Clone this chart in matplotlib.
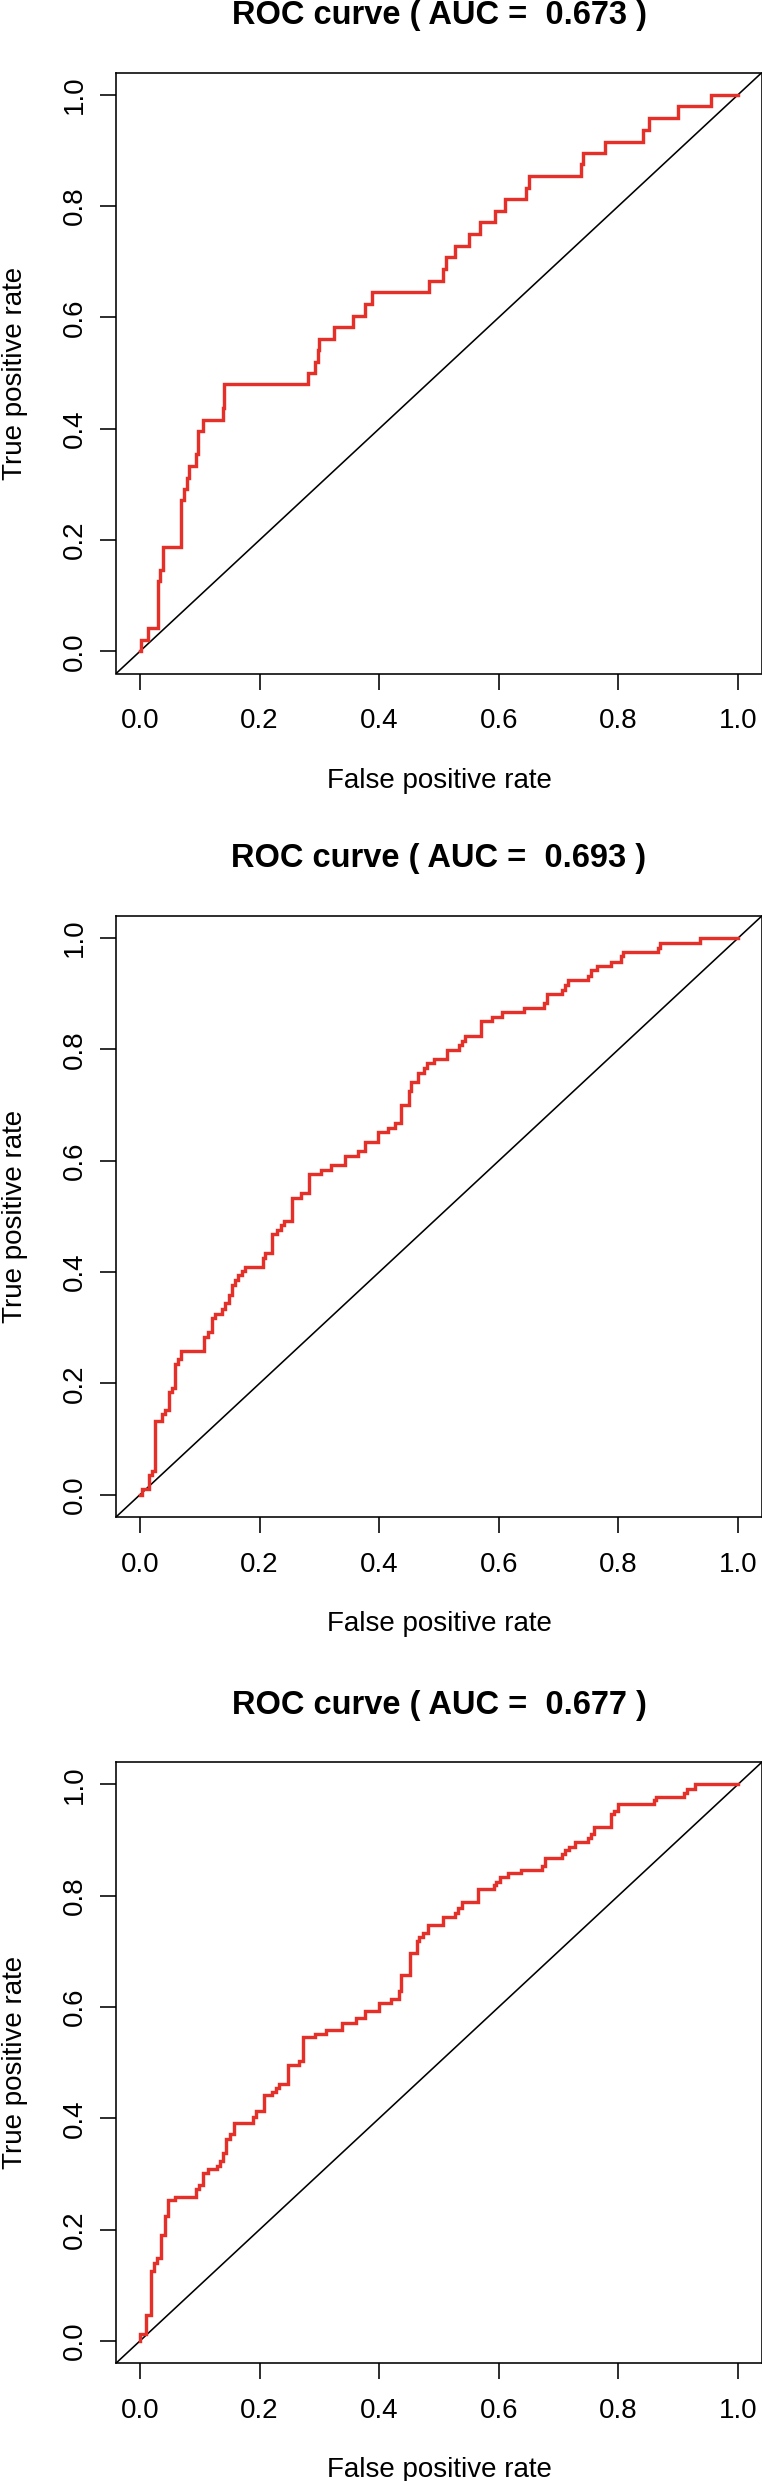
import numpy as np
import matplotlib
matplotlib.use("Agg")
import matplotlib.pyplot as plt
from matplotlib.transforms import blended_transform_factory, ScaledTranslation

plt.rcParams['font.family'] = ['Liberation Sans', 'DejaVu Sans']

# ---------------- data ----------------
titles = ["ROC curve ( AUC =  0.673 )",
          "ROC curve ( AUC =  0.693 )",
          "ROC curve ( AUC =  0.677 )"]
x_label = "False positive rate"
y_label = "True positive rate"
tick_values = [0.0, 0.2, 0.4, 0.6, 0.8, 1.0]
tick_labels = ["0.0", "0.2", "0.4", "0.6", "0.8", "1.0"]

# staircase: FPR where the curve rises, TPR level reached after the rise
fpr_1 = [0.002, 0.013, 0.030, 0.034, 0.038, 0.069, 0.073, 0.078, 0.082, 0.093,
         0.097, 0.106, 0.138, 0.141, 0.281, 0.293, 0.297, 0.299, 0.324, 0.357,
         0.376, 0.388, 0.484, 0.507, 0.511, 0.527, 0.550, 0.568, 0.593, 0.610,
         0.646, 0.650, 0.737, 0.741, 0.777, 0.841, 0.852, 0.900, 0.955]
tpr_1 = [0.021, 0.041, 0.126, 0.146, 0.188, 0.271, 0.292, 0.312, 0.333, 0.355,
         0.395, 0.416, 0.438, 0.480, 0.500, 0.520, 0.541, 0.561, 0.582, 0.603,
         0.624, 0.645, 0.666, 0.687, 0.708, 0.729, 0.750, 0.771, 0.792, 0.813,
         0.833, 0.854, 0.875, 0.895, 0.916, 0.937, 0.958, 0.979, 1.000]

fpr_2 = [0.004, 0.015, 0.020, 0.025, 0.037, 0.042, 0.048, 0.053, 0.059, 0.064,
         0.069, 0.107, 0.113, 0.121, 0.126, 0.137, 0.142, 0.148, 0.154, 0.159,
         0.164, 0.170, 0.175, 0.205, 0.209, 0.221, 0.229, 0.236, 0.241, 0.254,
         0.270, 0.283, 0.302, 0.319, 0.343, 0.365, 0.376, 0.398, 0.415, 0.426,
         0.437, 0.449, 0.454, 0.465, 0.475, 0.480, 0.492, 0.514, 0.533, 0.538,
         0.543, 0.571, 0.589, 0.605, 0.642, 0.676, 0.681, 0.705, 0.711, 0.715,
         0.750, 0.754, 0.764, 0.787, 0.804, 0.808, 0.866, 0.870, 0.937]
tpr_2 = [0.010, 0.035, 0.042, 0.133, 0.145, 0.152, 0.185, 0.192, 0.234, 0.243,
         0.259, 0.283, 0.292, 0.318, 0.325, 0.333, 0.344, 0.359, 0.377, 0.385,
         0.394, 0.402, 0.409, 0.425, 0.434, 0.468, 0.476, 0.485, 0.492, 0.533,
         0.542, 0.576, 0.584, 0.592, 0.609, 0.617, 0.634, 0.651, 0.658, 0.667,
         0.701, 0.725, 0.741, 0.758, 0.766, 0.775, 0.783, 0.799, 0.808, 0.815,
         0.825, 0.851, 0.859, 0.867, 0.875, 0.884, 0.899, 0.907, 0.916, 0.925,
         0.932, 0.942, 0.950, 0.958, 0.968, 0.975, 0.983, 0.991, 1.000]

fpr_3 = [0.000, 0.010, 0.018, 0.024, 0.029, 0.035, 0.041, 0.047, 0.059, 0.093,
         0.098, 0.106, 0.114, 0.128, 0.133, 0.138, 0.144, 0.150, 0.157, 0.189,
         0.194, 0.208, 0.221, 0.227, 0.233, 0.247, 0.266, 0.272, 0.293, 0.311,
         0.337, 0.362, 0.376, 0.399, 0.420, 0.433, 0.437, 0.451, 0.463, 0.467,
         0.474, 0.481, 0.507, 0.526, 0.532, 0.538, 0.565, 0.592, 0.596, 0.602,
         0.615, 0.637, 0.672, 0.677, 0.705, 0.711, 0.717, 0.728, 0.749, 0.754,
         0.760, 0.788, 0.793, 0.800, 0.859, 0.863, 0.909, 0.915, 0.928]
tpr_3 = [0.013, 0.047, 0.125, 0.140, 0.149, 0.190, 0.225, 0.253, 0.259, 0.272,
         0.280, 0.301, 0.308, 0.315, 0.323, 0.337, 0.363, 0.372, 0.392, 0.403,
         0.413, 0.441, 0.448, 0.455, 0.462, 0.496, 0.503, 0.546, 0.552, 0.559,
         0.572, 0.580, 0.593, 0.607, 0.615, 0.629, 0.657, 0.697, 0.719, 0.725,
         0.732, 0.748, 0.762, 0.769, 0.777, 0.789, 0.812, 0.819, 0.825, 0.833,
         0.840, 0.846, 0.854, 0.867, 0.875, 0.882, 0.888, 0.897, 0.903, 0.911,
         0.924, 0.946, 0.952, 0.965, 0.971, 0.978, 0.985, 0.992, 1.000]

curves = [(fpr_1, tpr_1), (fpr_2, tpr_2), (fpr_3, tpr_3)]

# ---------------- layout ----------------
W, H = 762, 2481
DPI = 100
PT = 72.0 / DPI          # points per pixel
fig = plt.figure(figsize=(W / DPI, H / DPI), dpi=DPI)
fig.patch.set_facecolor("white")

ax_left_px = 116.1
ax_w_px = 645.8
ax_h_px = 601.0
ax_tops_px = [72.5, 915.9, 1762.1]

red = "#E5302A"
fs_axis = 20.0
fs_title = 23.5

for (fpr, tpr), title, top in zip(curves, titles, ax_tops_px):
    ax = fig.add_axes([ax_left_px / W, 1 - (top + ax_h_px) / H,
                       ax_w_px / W, ax_h_px / H])
    ax.set_xlim(-0.04, 1.04)
    ax.set_ylim(-0.04, 1.04)

    xs = np.r_[0.0, np.asarray(fpr), 1.0]
    ys = np.r_[0.0, np.asarray(tpr), tpr[-1]]
    ax.step(xs, ys, where="post", color=red, lw=3.4 * PT,
            solid_joinstyle="miter", zorder=3)
    ax.plot([-0.04, 1.04], [-0.04, 1.04], color="black", lw=1.6 * PT, zorder=2)

    for s in ax.spines.values():
        s.set_linewidth(1.6 * PT)
        s.set_color("black")

    ax.set_xticks(tick_values)
    ax.set_xticklabels(tick_labels, fontsize=fs_axis)
    ax.set_yticks(tick_values)
    ax.set_yticklabels(tick_labels, fontsize=fs_axis, rotation=90, va="center")
    ax.tick_params(axis="both", direction="out", length=16 * PT,
                   width=1.6 * PT, color="black")
    ax.tick_params(axis="x", pad=19 * PT)
    ax.tick_params(axis="y", pad=12.5 * PT)

    # title: baseline 48.5 px above the box
    ax.text(0.5, 1.0, title,
            transform=ax.transAxes + ScaledTranslation(0, 48.5 / DPI, fig.dpi_scale_trans),
            ha="center", va="baseline", fontsize=fs_title, fontweight="bold")
    # x label: baseline 114 px below the box
    ax.text(0.5, 0.0, x_label,
            transform=ax.transAxes + ScaledTranslation(0, -114 / DPI, fig.dpi_scale_trans),
            ha="center", va="baseline", fontsize=fs_axis)
    # y label: baseline at x = 22 px in the figure
    ytr = blended_transform_factory(fig.transFigure, ax.transAxes)
    ax.text(22.0 / W, 0.5, y_label, transform=ytr, rotation=90,
            rotation_mode="anchor", ha="center", va="baseline", fontsize=fs_axis)

fig.savefig("out.png", dpi=DPI, facecolor="white")
